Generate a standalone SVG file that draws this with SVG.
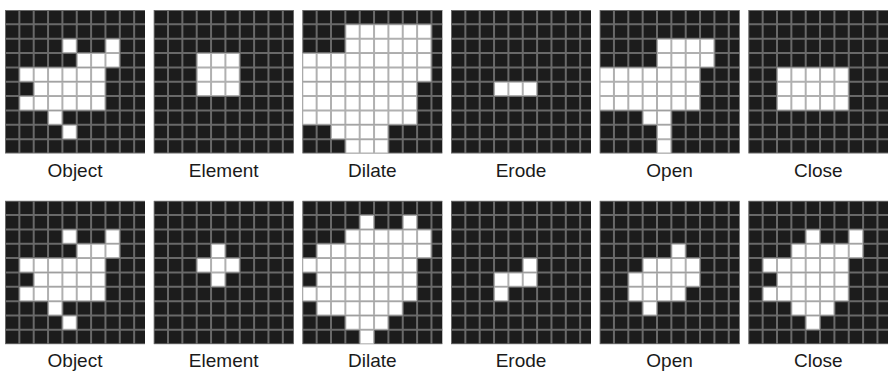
<svg xmlns="http://www.w3.org/2000/svg" xmlns:xlink="http://www.w3.org/1999/xlink" width="888" height="371" viewBox="0 0 888 371">
<style>
.bg{fill:#1c1c1c}
.on{fill:#ffffff}
.gl{fill:none;stroke:#8c8c8c;stroke-opacity:0.69;stroke-width:0.14}
.lbl{font-family:"Liberation Sans",Arial,sans-serif;font-size:19px;fill:#1a1a1a;text-anchor:middle}
</style>
<defs>
<clipPath id="pc" clipPathUnits="userSpaceOnUse"><rect x="0" y="0" width="9.756" height="10"/></clipPath>
<path id="grid" class="gl" d="M0 0V10M1 0V10M2 0V10M3 0V10M4 0V10M5 0V10M6 0V10M7 0V10M8 0V10M9 0V10M10 0V10M0 0H10M0 1H10M0 2H10M0 3H10M0 4H10M0 5H10M0 6H10M0 7H10M0 8H10M0 9H10M0 10H10"/>
<g id="obj">
<rect class="on" x="4" y="2" width="1" height="1"/><rect class="on" x="7" y="2" width="1" height="1"/>
<rect class="on" x="5" y="3" width="3" height="1"/>
<rect class="on" x="1" y="4" width="6" height="1"/>
<rect class="on" x="2" y="5" width="5" height="1"/>
<rect class="on" x="1" y="6" width="6" height="1"/>
<rect class="on" x="3" y="7" width="1" height="1"/>
<rect class="on" x="4" y="8" width="1" height="1"/>
</g>
</defs>

<g id="panel-object-1" transform="translate(5,10) scale(14.35)">
<g clip-path="url(#pc)">
<rect class="bg" x="0" y="0" width="10" height="10"/>
<use xlink:href="#obj"/>
<use xlink:href="#grid"/>
</g>
</g>
<g id="panel-element-1" transform="translate(153.66,10) scale(14.35)">
<g clip-path="url(#pc)">
<rect class="bg" x="0" y="0" width="10" height="10"/>
<rect class="on" x="3" y="3" width="3" height="3"/>
<use xlink:href="#grid"/>
</g>
</g>
<g id="panel-dilate-1" transform="translate(302.3,10) scale(14.35)">
<g clip-path="url(#pc)">
<rect class="bg" x="0" y="0" width="10" height="10"/>
<rect class="on" x="3" y="1" width="6" height="2"/>
<rect class="on" x="0" y="3" width="9" height="2"/>
<rect class="on" x="0" y="5" width="8" height="3"/>
<rect class="on" x="2" y="8" width="4" height="1"/>
<rect class="on" x="3" y="9" width="3" height="1"/>
<use xlink:href="#grid"/>
</g>
</g>
<g id="panel-erode-1" transform="translate(451,10) scale(14.35)">
<g clip-path="url(#pc)">
<rect class="bg" x="0" y="0" width="10" height="10"/>
<rect class="on" x="3" y="5" width="3" height="1"/>
<use xlink:href="#grid"/>
</g>
</g>
<g id="panel-open-1" transform="translate(599.6,10) scale(14.35)">
<g clip-path="url(#pc)">
<rect class="bg" x="0" y="0" width="10" height="10"/>
<rect class="on" x="4" y="2" width="4" height="2"/>
<rect class="on" x="0" y="4" width="7" height="3"/>
<rect class="on" x="3" y="7" width="2" height="1"/>
<rect class="on" x="4" y="8" width="1" height="2"/>
<use xlink:href="#grid"/>
</g>
</g>
<g id="panel-close-1" transform="translate(748.3,10) scale(14.35)">
<g clip-path="url(#pc)">
<rect class="bg" x="0" y="0" width="10" height="10"/>
<rect class="on" x="2" y="4" width="5" height="3"/>
<use xlink:href="#grid"/>
</g>
</g>

<g id="panel-object-2" transform="translate(5,200.7) scale(14.35)">
<g clip-path="url(#pc)">
<rect class="bg" x="0" y="0" width="10" height="10"/>
<use xlink:href="#obj"/>
<use xlink:href="#grid"/>
</g>
</g>
<g id="panel-element-2" transform="translate(153.66,200.7) scale(14.35)">
<g clip-path="url(#pc)">
<rect class="bg" x="0" y="0" width="10" height="10"/>
<rect class="on" x="4" y="3" width="1" height="3"/>
<rect class="on" x="3" y="4" width="3" height="1"/>
<use xlink:href="#grid"/>
</g>
</g>
<g id="panel-dilate-2" transform="translate(302.3,200.7) scale(14.35)">
<g clip-path="url(#pc)">
<rect class="bg" x="0" y="0" width="10" height="10"/>
<rect class="on" x="4" y="1" width="1" height="1"/><rect class="on" x="7" y="1" width="1" height="1"/>
<rect class="on" x="3" y="2" width="6" height="1"/>
<rect class="on" x="1" y="3" width="8" height="1"/>
<rect class="on" x="0" y="4" width="8" height="1"/>
<rect class="on" x="1" y="5" width="7" height="1"/>
<rect class="on" x="0" y="6" width="8" height="1"/>
<rect class="on" x="1" y="7" width="6" height="1"/>
<rect class="on" x="3" y="8" width="3" height="1"/>
<rect class="on" x="4" y="9" width="1" height="1"/>
<use xlink:href="#grid"/>
</g>
</g>
<g id="panel-erode-2" transform="translate(451,200.7) scale(14.35)">
<g clip-path="url(#pc)">
<rect class="bg" x="0" y="0" width="10" height="10"/>
<rect class="on" x="5" y="4" width="1" height="1"/>
<rect class="on" x="3" y="5" width="3" height="1"/>
<rect class="on" x="3" y="6" width="1" height="1"/>
<use xlink:href="#grid"/>
</g>
</g>
<g id="panel-open-2" transform="translate(599.6,200.7) scale(14.35)">
<g clip-path="url(#pc)">
<rect class="bg" x="0" y="0" width="10" height="10"/>
<rect class="on" x="5" y="3" width="1" height="1"/>
<rect class="on" x="3" y="4" width="4" height="1"/>
<rect class="on" x="2" y="5" width="5" height="1"/>
<rect class="on" x="2" y="6" width="4" height="1"/>
<rect class="on" x="3" y="7" width="1" height="1"/>
<use xlink:href="#grid"/>
</g>
</g>
<g id="panel-close-2" transform="translate(748.3,200.7) scale(14.35)">
<g clip-path="url(#pc)">
<rect class="bg" x="0" y="0" width="10" height="10"/>
<rect class="on" x="4" y="2" width="1" height="1"/><rect class="on" x="7" y="2" width="1" height="1"/>
<rect class="on" x="3" y="3" width="5" height="1"/>
<rect class="on" x="1" y="4" width="6" height="1"/>
<rect class="on" x="2" y="5" width="5" height="1"/>
<rect class="on" x="1" y="6" width="6" height="1"/>
<rect class="on" x="3" y="7" width="3" height="1"/>
<rect class="on" x="4" y="8" width="1" height="1"/>
<use xlink:href="#grid"/>
</g>
</g>

<g id="labels">
<text class="lbl" x="75" y="177">Object</text>
<text class="lbl" x="223.7" y="177">Element</text>
<text class="lbl" x="372.3" y="177">Dilate</text>
<text class="lbl" x="521" y="177">Erode</text>
<text class="lbl" x="669.6" y="177">Open</text>
<text class="lbl" x="818.3" y="177">Close</text>
<text class="lbl" x="75" y="366.5">Object</text>
<text class="lbl" x="223.7" y="366.5">Element</text>
<text class="lbl" x="372.3" y="366.5">Dilate</text>
<text class="lbl" x="521" y="366.5">Erode</text>
<text class="lbl" x="669.6" y="366.5">Open</text>
<text class="lbl" x="818.3" y="366.5">Close</text>
</g>
</svg>
